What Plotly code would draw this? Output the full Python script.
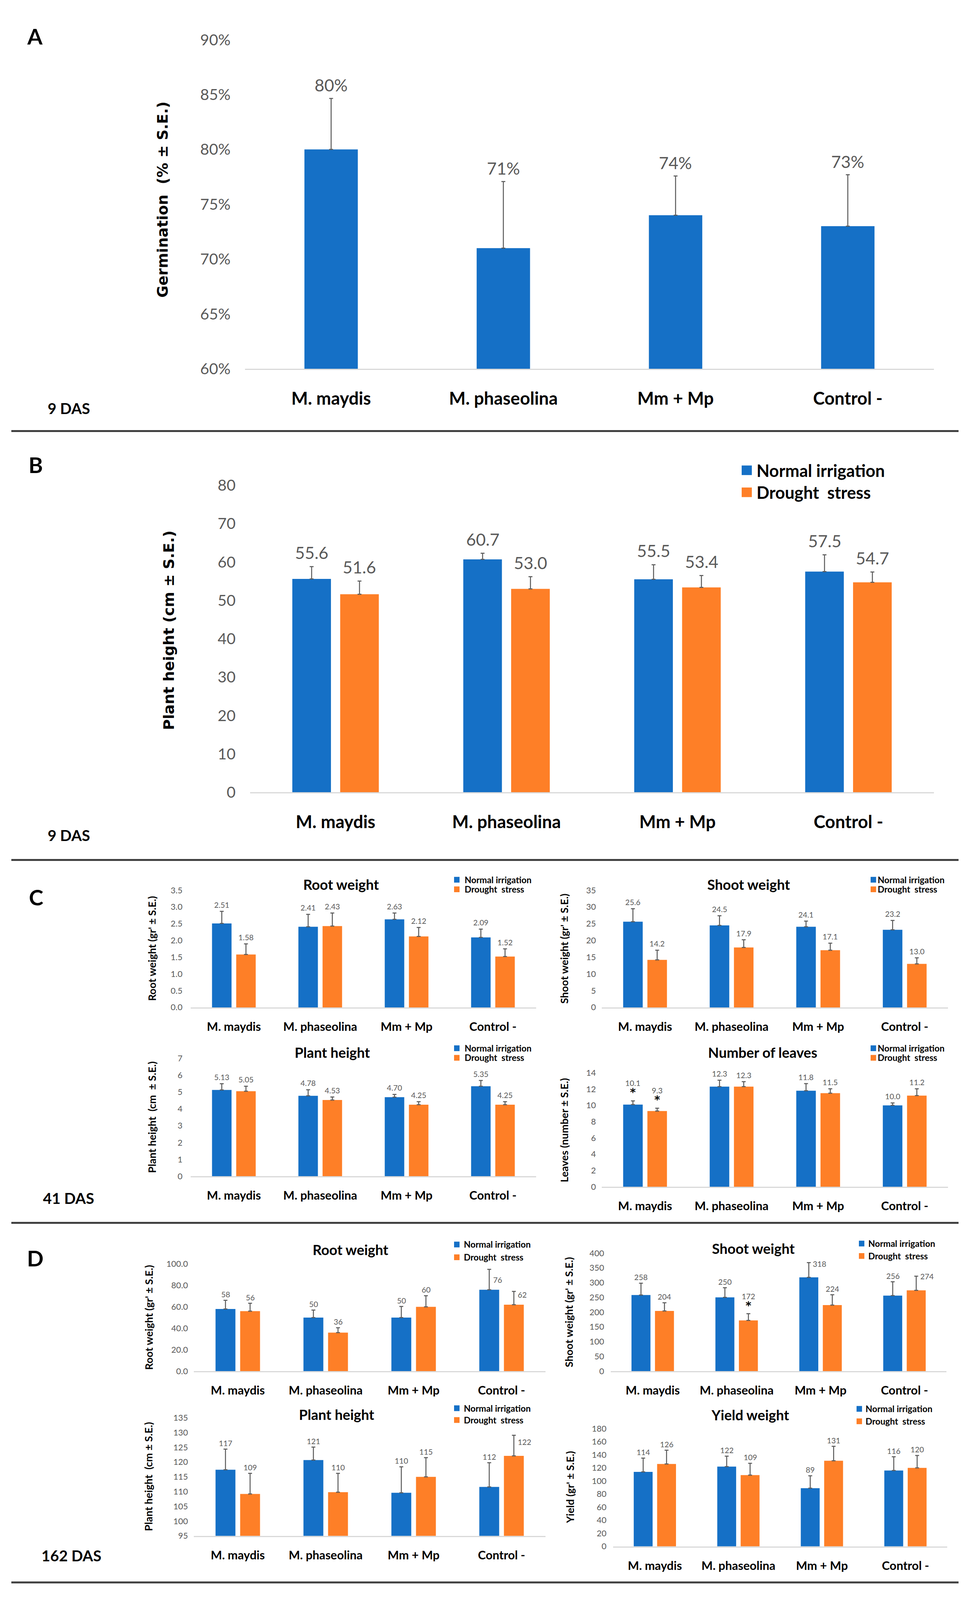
import plotly.graph_objects as go

# ---------------- data ----------------
categories = ["M. maydis", "M. phaseolina", "Mm + Mp", "Control -"]

germination = [80, 71, 74, 73]
germination_se = [4.65, 6.07, 3.58, 4.7]

b_height_normal = [55.6, 60.7, 55.5, 57.5]
b_height_normal_se = [3.2, 1.6, 3.8, 4.4]
b_height_drought = [51.6, 53.0, 53.4, 54.7]
b_height_drought_se = [3.45, 3.2, 3.1, 2.7]

c_root_normal = [2.51, 2.41, 2.63, 2.09]
c_root_normal_se = [0.36, 0.37, 0.19, 0.25]
c_root_drought = [1.58, 2.43, 2.12, 1.52]
c_root_drought_se = [0.32, 0.39, 0.27, 0.23]

c_shoot_normal = [25.6, 24.5, 24.1, 23.2]
c_shoot_normal_se = [3.9, 2.9, 1.7, 2.8]
c_shoot_drought = [14.2, 17.9, 17.1, 13.0]
c_shoot_drought_se = [2.9, 2.3, 2.1, 1.8]

c_height_normal = [5.13, 4.78, 4.70, 5.35]
c_height_normal_se = [0.37, 0.36, 0.16, 0.34]
c_height_drought = [5.05, 4.53, 4.25, 4.25]
c_height_drought_se = [0.30, 0.18, 0.18, 0.18]

c_leaves_normal = [10.1, 12.3, 11.8, 10.0]
c_leaves_normal_se = [0.45, 0.8, 0.87, 0.3]
c_leaves_drought = [9.3, 12.3, 11.5, 11.2]
c_leaves_drought_se = [0.35, 0.62, 0.54, 0.84]
c_leaves_normal_sig = ["*", "", "", ""]
c_leaves_drought_sig = ["*", "", "", ""]

d_root_normal = [58, 50, 50, 76]
d_root_normal_se = [8.1, 7.0, 10.4, 19.0]
d_root_drought = [56, 36, 60, 62]
d_root_drought_se = [7.4, 4.5, 10.4, 12.4]

d_shoot_normal = [258, 250, 318, 256]
d_shoot_normal_se = [40, 33, 50, 47]
d_shoot_drought = [204, 172, 224, 274]
d_shoot_drought_se = [28, 23, 35, 48]
d_shoot_drought_sig = ["", "*", "", ""]

d_height_normal = [117.4, 120.7, 109.6, 111.6]
d_height_normal_se = [7.0, 4.4, 8.8, 8.2]
d_height_drought = [109.2, 109.8, 115.0, 122.1]
d_height_drought_se = [7.0, 6.4, 6.5, 7.0]

d_yield_normal = [114, 122, 89, 116]
d_yield_normal_se = [21, 16, 19, 21]
d_yield_drought = [126, 109, 131, 120]
d_yield_drought_se = [21, 18, 22, 19]

series_names = ["Normal irrigation", "Drought\u00a0\u00a0stress"]

# ---------------- style ----------------
W = 2490
H_REF = 4956          # layout designed on the reference's pixel grid
H = 4096              # the browser viewport is 4096 px tall, fit the page into it
SY = H / H_REF        # vertical compression for pixel offsets
FS = 0.9              # font scale
BLUE = "#1570C6"
ORANGE = "#FE7F27"
GRAY_TXT = "#595959"
AXIS_COL = "#D9D9D9"
ERR_COL = "#595959"
FONT = "Lato"
TITLE_FONT_AB = "DejaVu Sans"


def f(size):
    return round(size * FS, 1)


def px_x(x):
    return x / W


def px_y(y):
    return 1 - y / H_REF


fig = go.Figure()
axes = {}
annotations = []
shapes = []


def add_panel(n, xdom, ydom, yrange, dtick, series, tickformat=None, ticksuffix="",
              tick_size=24, cat_size=34, lab_size=22, tick_standoff=18,
              cat_standoff=24, bar_w=0.226, shift=0.14, lab_gap=4):
    xa = "x" if n == 1 else f"x{n}"
    ya = "y" if n == 1 else f"y{n}"
    k = len(series)
    for j, s in enumerate(series):
        off = 0 if k == 1 else (-shift if j == 0 else shift)
        xs = [i + off for i in range(len(categories))]
        fig.add_trace(go.Bar(
            x=xs, y=s["v"], width=s.get("w", bar_w),
            marker=dict(color=s["c"], line=dict(width=0)),
            error_y=dict(type="data", array=s["se"], symmetric=False,
                         arrayminus=[0] * len(s["v"]), color=ERR_COL,
                         thickness=2.5, width=5),
            xaxis=xa, yaxis=ya, showlegend=False, hoverinfo="skip"))
        fr = s.get("lab_at", [1.0] * len(s["v"]))
        side = s.get("side", [False] * len(s["v"]))
        for i, v in enumerate(s["v"]):
            t = s["fmt"].format(v)
            sig = s.get("sig")
            if sig and sig[i]:
                t = (t + "<br><span style='color:#000000;font-family:DejaVu Sans;"
                     "font-weight:bold;font-size:%dpx'>%s</span>"
                     % (int(f(lab_size) * 1.45), sig[i]))
            yy = v + s["se"][i] * fr[i]
            if side[i]:
                annotations.append(dict(
                    x=xs[i], y=yy, xref=xa, yref=ya, text=t, showarrow=False,
                    xanchor="left", yanchor="middle", xshift=8,
                    font=dict(family=FONT, size=f(lab_size), color=GRAY_TXT)))
            else:
                annotations.append(dict(
                    x=xs[i], y=yy, xref=xa, yref=ya, text=t, showarrow=False,
                    xanchor="center", yanchor="bottom", yshift=lab_gap * SY,
                    font=dict(family=FONT, size=f(lab_size), color=GRAY_TXT)))
    xkey = "xaxis" if n == 1 else f"xaxis{n}"
    ykey = "yaxis" if n == 1 else f"yaxis{n}"
    axes[xkey] = dict(
        domain=[px_x(xdom[0]), px_x(xdom[1])], range=[-0.5, 3.5],
        tickmode="array", tickvals=list(range(len(categories))), ticktext=categories,
        showline=True, linecolor=AXIS_COL, linewidth=3, showgrid=False,
        zeroline=False, ticks="", anchor=ya, fixedrange=True,
        tickfont=dict(family=FONT, size=f(cat_size), color="#000000", weight="bold"),
        ticklabelstandoff=round(cat_standoff * SY))
    yd = dict(
        domain=[px_y(ydom[1]), px_y(ydom[0])], range=list(yrange),
        tick0=yrange[0], dtick=dtick, showline=False, showgrid=False,
        zeroline=False, ticks="", anchor=xa, fixedrange=True,
        tickfont=dict(family=FONT, size=f(tick_size), color=GRAY_TXT),
        ticklabelstandoff=tick_standoff, ticksuffix=ticksuffix)
    if tickformat:
        yd["tickformat"] = tickformat
    axes[ykey] = yd


def two(vn, sen, vd, sed, fmt, **kw):
    a = dict(v=vn, se=sen, c=BLUE, fmt=fmt)
    b = dict(v=vd, se=sed, c=ORANGE, fmt=fmt)
    for key, val in kw.items():
        if key.startswith("n_"):
            a[key[2:]] = val
        elif key.startswith("d_"):
            b[key[2:]] = val
    return [a, b]


def text(x, y, s, size, bold=False, color="#000000", family=FONT, angle=0,
         xanchor="center", yanchor="middle"):
    if bold:
        s = "<b>" + s + "</b>"
    annotations.append(dict(
        x=px_x(x), y=px_y(y), xref="paper", yref="paper", text=s,
        showarrow=False, textangle=angle, xanchor=xanchor, yanchor=yanchor,
        font=dict(family=family, size=f(size), color=color)))


def legend(sq_x, sq_w, sq_h, text_x, y_n, y_d, size):
    for yy, col, name in [(y_n, BLUE, series_names[0]), (y_d, ORANGE, series_names[1])]:
        shapes.append(dict(type="rect", xref="paper", yref="paper",
                           x0=px_x(sq_x), x1=px_x(sq_x + sq_w),
                           y0=px_y(yy + sq_h / 2), y1=px_y(yy - sq_h / 2),
                           fillcolor=col, line=dict(width=0)))
        text(text_x, yy, name, size, bold=True, xanchor="left")


LAST = [False, False, False, True]

# ---------------- Panel A ----------------
add_panel(1, (627, 2390), (94, 1125), (60, 90), 5,
          [dict(v=germination, se=germination_se, c=BLUE, fmt="{:.0f}%", w=0.31)],
          ticksuffix="%", tick_size=44, cat_size=50, lab_size=48,
          tick_standoff=36, cat_standoff=42, lab_gap=8)
text(89, 83, "A", 62, bold=True)
text(416, 595, "Germination\u00a0\u00a0(% ± S.E.)", 42, bold=True, family=TITLE_FONT_AB, angle=-90)
text(176, 1248, "9 DAS", 43, bold=True)

# ---------------- Panel B ----------------
add_panel(2, (640, 2390), (1490, 2452), (0, 80), 10,
          two(b_height_normal, b_height_normal_se, b_height_drought, b_height_drought_se, "{:.1f}"),
          tick_size=44, cat_size=50, lab_size=48, tick_standoff=36, cat_standoff=42, lab_gap=10)
text(91, 1425, "B", 62, bold=True)
text(432, 1945, "Plant height (cm ± S.E.)", 42, bold=True, family=TITLE_FONT_AB, angle=-90)
text(176, 2586, "9 DAS", 43, bold=True)
legend(1898, 26, 30, 1934, 1443, 1512, 48)

# ---------------- Panel C ----------------
text(92, 2780, "C", 62, bold=True)
text(176, 3723, "41 DAS", 43, bold=True)

add_panel(3, (488, 1372), (2759, 3126), (0, 3.5), 0.5,
          two(c_root_normal, c_root_normal_se, c_root_drought, c_root_drought_se, "{:.2f}"),
          tickformat=".1f", tick_standoff=20)
text(873, 2740, "Root weight", 40, bold=True)
text(389, 2942, "Root weight (gr' ± S.E.)", 30, bold=True, angle=-90)
legend(1162, 14, 18, 1187, 2726, 2756, 25)

add_panel(4, (1540, 2426), (2759, 3126), (0, 35), 5,
          two(c_shoot_normal, c_shoot_normal_se, c_shoot_drought, c_shoot_drought_se, "{:.1f}"),
          tick_standoff=14)
text(1916, 2740, "Shoot weight", 40, bold=True)
text(1444, 2942, "Shoot weight (gr' ± S.E.)", 30, bold=True, angle=-90)
legend(2228, 14, 18, 2244, 2726, 2756, 25)

add_panel(5, (488, 1372), (3286, 3655), (0, 7), 1,
          two(c_height_normal, c_height_normal_se, c_height_drought, c_height_drought_se, "{:.2f}"),
          tick_standoff=20)
text(850, 3267, "Plant height", 40, bold=True)
text(389, 3470, "Plant height\u00a0\u00a0(cm\u00a0\u00a0± S.E.)", 30, bold=True, angle=-90)
legend(1162, 14, 18, 1187, 3254, 3284, 25)

add_panel(6, (1540, 2426), (3331, 3688), (0, 14), 2,
          two(c_leaves_normal, c_leaves_normal_se, c_leaves_drought, c_leaves_drought_se, "{:.1f}",
              n_sig=c_leaves_normal_sig, d_sig=c_leaves_drought_sig),
          tick_standoff=14)
text(1952, 3267, "Number of leaves", 40, bold=True)
text(1444, 3510, "Leaves (number ± S.E.)", 30, bold=True, angle=-90)
legend(2228, 14, 18, 2244, 3254, 3284, 25)

# ---------------- Panel D ----------------
text(90, 3911, "D", 62, bold=True)
text(182, 4843, "162 DAS", 43, bold=True)

add_panel(7, (496, 1396), (3930, 4266), (0, 100), 20,
          two(d_root_normal, d_root_normal_se, d_root_drought, d_root_drought_se, "{:.0f}",
              n_side=LAST, n_lab_at=[1, 1, 1, 0.5],
              d_side=LAST, d_lab_at=[1, 1, 1, 0.76]),
          tickformat=".1f", tick_standoff=14, lab_gap=2)
text(897, 3885, "Root weight", 40, bold=True)
text(380, 4098, "Root weight (gr' ± S.E.)", 30, bold=True, angle=-90)
legend(1162, 14, 18, 1185, 3869, 3909, 25)

add_panel(8, (1563, 2422), (3896, 4266), (0, 400), 50,
          two(d_shoot_normal, d_shoot_normal_se, d_shoot_drought, d_shoot_drought_se, "{:.0f}",
              n_side=[False, False, True, False], n_lab_at=[1, 1, 0.92, 1],
              d_side=LAST, d_sig=d_shoot_drought_sig),
          tick_standoff=16, lab_gap=2)
text(1928, 3881, "Shoot weight", 40, bold=True)
text(1455, 4081, "Shoot weight (gr' ± S.E.)", 30, bold=True, angle=-90)
legend(2198, 14, 18, 2220, 3866, 3905, 25)

add_panel(9, (496, 1396), (4412, 4782), (95, 135), 5,
          two(d_height_normal, d_height_normal_se, d_height_drought, d_height_drought_se, "{:.0f}",
              d_side=LAST, d_lab_at=[1, 1, 1, 0.68]),
          tick_standoff=14, lab_gap=2)
text(861, 4401, "Plant height", 40, bold=True)
text(380, 4597, "Plant height\u00a0\u00a0(cm ± S.E.)", 30, bold=True, angle=-90)
legend(1162, 14, 18, 1185, 4382, 4419, 25)

add_panel(10, (1569, 2424), (4446, 4815), (0, 180), 20,
          two(d_yield_normal, d_yield_normal_se, d_yield_drought, d_yield_drought_se, "{:.0f}"),
          tick_standoff=16, lab_gap=2)
text(1920, 4403, "Yield weight", 40, bold=True)
text(1459, 4630, "Yield (gr' ± S.E.)", 30, bold=True, angle=-90)
legend(2192, 14, 18, 2213, 4384, 4423, 25)

# ---------------- dividers ----------------
for yy in [1320, 2664, 3801, 4928]:
    shapes.append(dict(type="line", xref="paper", yref="paper",
                       x0=px_x(29), x1=px_x(2453), y0=px_y(yy), y1=px_y(yy),
                       line=dict(color="#404040", width=5)))

fig.update_layout(
    width=W, height=H, autosize=False,
    margin=dict(l=0, r=0, t=0, b=0),
    paper_bgcolor="white", plot_bgcolor="white",
    barmode="overlay", showlegend=False,
    annotations=annotations, shapes=shapes,
    font=dict(family=FONT),
    **axes)

fig.write_html("out.html", config={"displayModeBar": False},
               post_script="document.body.style.margin='0';"
                           "document.body.style.overflow='hidden';")
